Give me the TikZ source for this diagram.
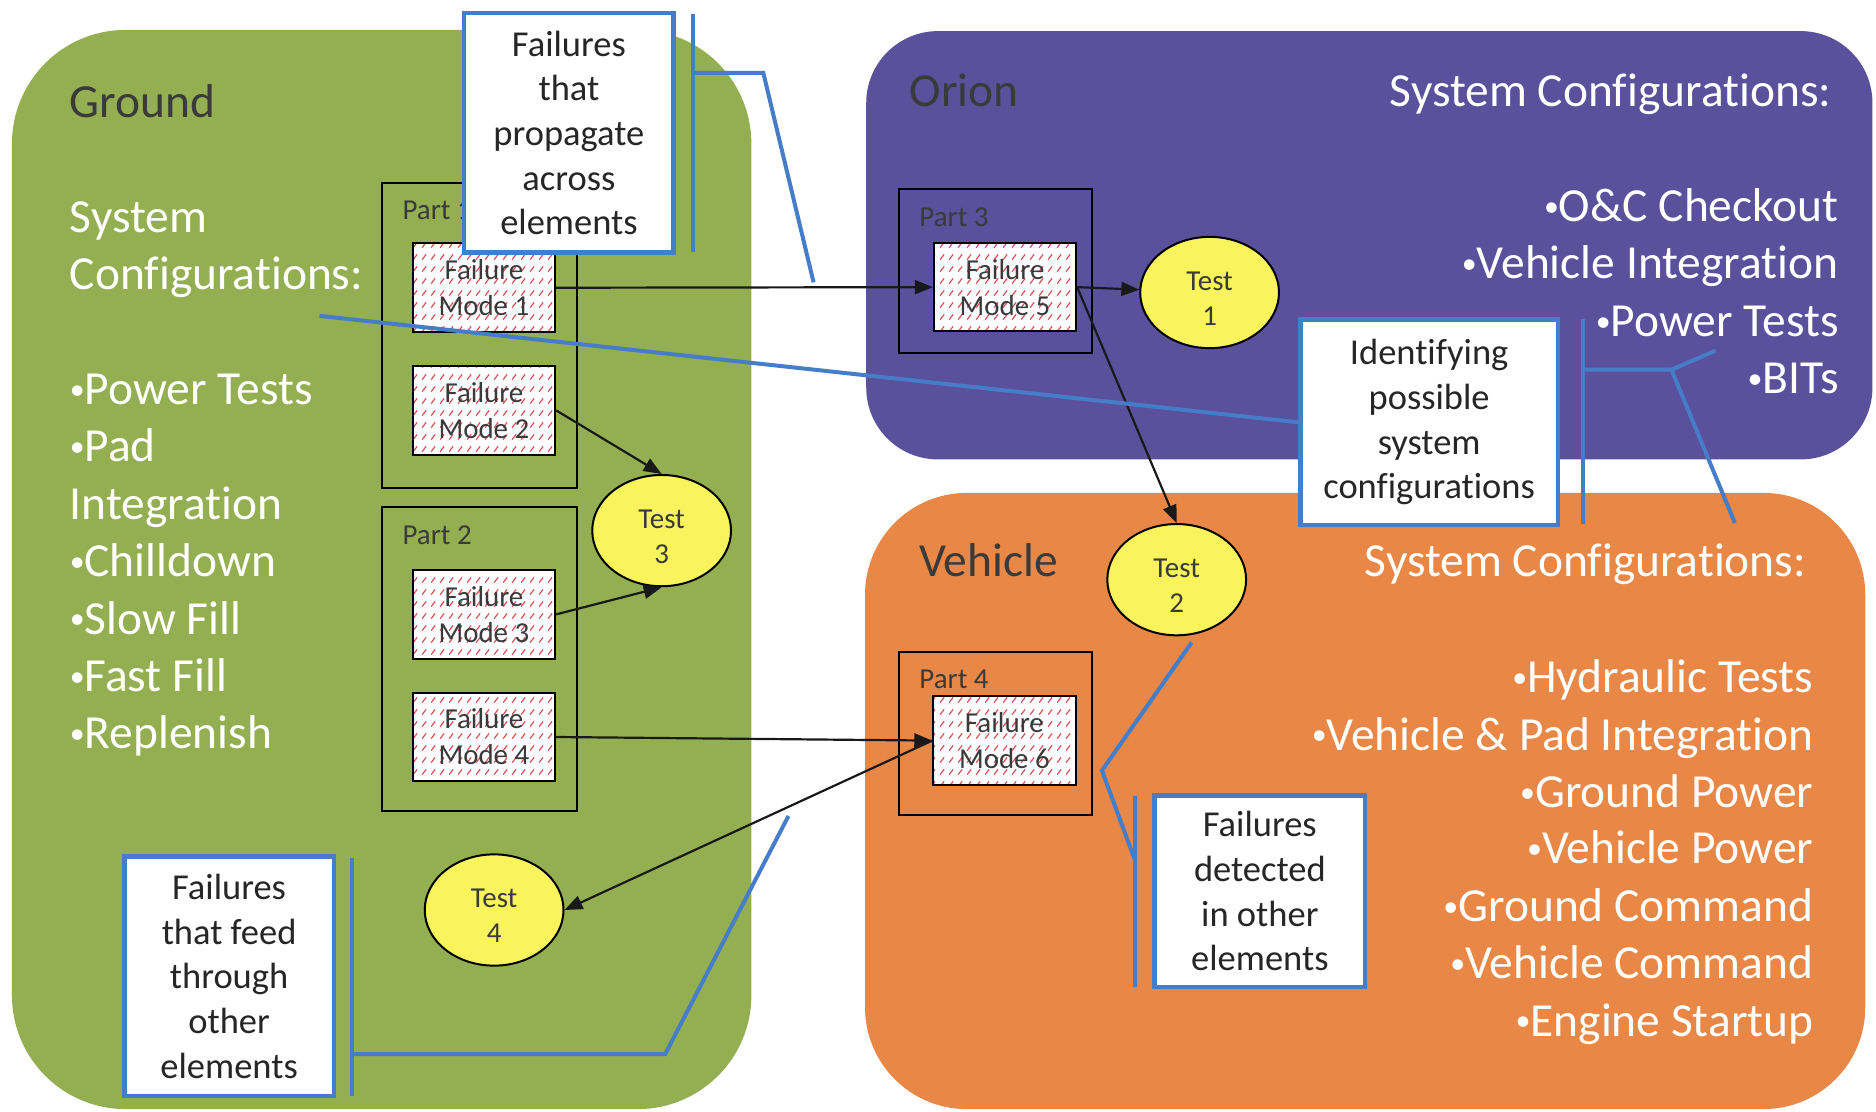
\documentclass[tikz,border=0pt]{standalone}
\usepackage{fontspec}
\setmainfont{Carlito}[Ligatures=NoCommon]
\usetikzlibrary{arrows.meta,patterns.meta,shapes.geometric}

\definecolor{groundgreen}{HTML}{93AF52}
\definecolor{orionpurple}{HTML}{5A509B}
\definecolor{vehicleorange}{HTML}{E88746}
\definecolor{testyellow}{HTML}{F9F35C}
\definecolor{calloutblue}{HTML}{467DC8}
\definecolor{labelgray}{HTML}{3A3A3A}
\definecolor{hatchred}{HTML}{DE5058}

% small list bullet
\newcommand{\itemdot}{\raisebox{2.6pt}{\fontsize{15}{15}\selectfont •}}

% short upward diagonal dashes used inside the failure mode boxes
\tikzdeclarepattern{
  name=failhatch,
  type=uncolored,
  bounding box={(0pt,0pt) and (4.4pt,6pt)},
  tile size={(4.4pt,6pt)},
  code={\draw[line width=0.6pt] (0.6pt,1.2pt) -- (2.6pt,3.8pt);}
}

\tikzset{
  panel/.style={rectangle, inner sep=0pt, draw=none},
  bigtext/.style={font=\fontsize{23.8}{28.8}\selectfont, inner sep=0pt},
  headlabel/.style={bigtext, text=labelgray},
  cfgtext/.style={bigtext, text=white},
  smalltext/.style={font=\fontsize{14.5}{18}\selectfont, text=labelgray},
  partbox/.style={rectangle, draw=black, line width=1pt, inner sep=0pt},
  partlabel/.style={smalltext, inner sep=0pt, anchor=west},
  fmbox/.style={rectangle, draw=black, line width=1pt, preaction={fill=white},
    pattern=failhatch, pattern color=hatchred, minimum width=71.4pt,
    minimum height=44.4pt, inner sep=0pt, align=center, smalltext},
  testell/.style={ellipse, draw=black, line width=1pt, fill=testyellow,
    minimum width=69.6pt, minimum height=55.8pt, inner sep=0pt},
  testtxt/.style={font=\fontsize{14.5}{17.4}\selectfont, text=labelgray,
    align=center, inner sep=0pt},
  flow/.style={draw=black!90, line width=1.1pt, -{Triangle[length=9pt,width=7pt]}},
  callout/.style={rectangle, draw=calloutblue, line width=2.2pt, fill=white,
    align=center, inner sep=0pt, font=\fontsize{18.3}{22.4}\selectfont, text=black!85},
  accent/.style={draw=calloutblue, line width=2pt},
}

\begin{document}
\begin{tikzpicture}[x=0.6pt,y=-0.6pt]
\useasboundingbox (0,0) rectangle (1568,929);
\fill[white] (0,0) rectangle (1568,929);

% element panels
\node[panel, fill=groundgreen, rounded corners=57pt, minimum width=370.8pt, minimum height=541.2pt] (ground) at (319,476) {};
\node[panel, fill=orionpurple, rounded corners=36pt, minimum width=504.6pt, minimum height=214.8pt] (orion) at (1144.5,205) {};
\node[panel, fill=vehicleorange, rounded corners=51pt, minimum width=501.6pt, minimum height=309pt] (vehicle) at (1141,669.5) {};

% panel titles
\node[headlabel, anchor=base west] (ground-title) at (58,98) {Ground};
\node[headlabel, anchor=base west] (orion-title) at (760,89) {Orion};
\node[headlabel, anchor=base west] (vehicle-title) at (768,482) {Vehicle};

% system configurations of each element
\foreach \txt/\yy [count=\i] in {System/194, Configurations:/242, \itemdot Power Tests/338,
    \itemdot Pad/386, Integration/434, \itemdot Chilldown/482, \itemdot Slow Fill/530,
    \itemdot Fast Fill/578, \itemdot Replenish/626}
  \node[cfgtext, anchor=base west] (ground-cfg-\i) at (58,\yy) {\txt};

\node[cfgtext, anchor=base east] (orion-cfg-head) at (1531,89) {System Configurations:};
\foreach \txt/\yy [count=\i] in {\itemdot O\&C Checkout/185, \itemdot Vehicle Integration/233,
    \itemdot Power Tests/281, \itemdot BITs/329}
  \node[cfgtext, anchor=base east] (orion-cfg-\i) at (1537,\yy) {\txt};

\node[cfgtext, anchor=base east] (vehicle-cfg-head) at (1510,482) {System Configurations:};
\foreach \txt/\yy [count=\i] in {\itemdot Hydraulic Tests/579, \itemdot Vehicle \& Pad Integration/627,
    \itemdot Ground Power/675, \itemdot Vehicle Power/722, \itemdot Ground Command/770,
    \itemdot Vehicle Command/818, \itemdot Engine Startup/866}
  \node[cfgtext, anchor=base east] (vehicle-cfg-\i) at (1516,\yy) {\txt};

% parts
\node[partbox, minimum width=97.8pt, minimum height=153pt] (part1) at (400.5,280.5) {};
\node[partbox, minimum width=97.8pt, minimum height=152.4pt] (part2) at (400.5,551) {};
\node[partbox, minimum width=97.2pt, minimum height=82.2pt] (part3) at (832,226.5) {};
\node[partbox, minimum width=97.2pt, minimum height=81.6pt] (part4) at (832,613) {};
\foreach \p in {1,2,3,4}
  \node[partlabel] (part\p-label) at ([xshift=10.8pt,yshift=-14.4pt]part\p.north west) {Part \p};

% failure modes
\node[fmbox] (fm1) at (404.5,240.5) {Failure\\Mode 1};
\node[fmbox] (fm2) at (404.5,343) {Failure\\Mode 2};
\node[fmbox] (fm3) at (404.5,513.5) {Failure\\Mode 3};
\node[fmbox] (fm4) at (404.5,616) {Failure\\Mode 4};
\node[fmbox] (fm5) at (840,240) {Failure\\Mode 5};
\node[fmbox] (fm6) at (839.5,619) {Failure\\Mode 6};

% tests
\node[testell] (t1) at (1011,244.5) {};
\node[testell] (t2) at (983.5,484.5) {};
\node[testell] (t3) at (553,443.5) {};
\node[testell] (t4) at (413,760.6) {};
\foreach \t in {1,2,3,4}
  \node[testtxt] (t\t-text) at ([yshift=-3pt]t\t.center) {Test\\\t};

% propagation arrows
\draw[flow] (fm1.east) -- (fm5.west);
\draw[flow] (fm5.east) -- (t1);
\draw[flow] (fm5.east) -- (t2.north);
\draw[flow] (fm2.east) -- (t3.north);
\draw[flow] (fm3.east) -- (t3.south);
\draw[flow] (fm4.east) -- (fm6.west);
\draw[flow] (fm6.west) -- (t4.east);

% callouts
\node[callout, minimum width=105pt, minimum height=120pt] (cA) at (475.5,111)
  {Failures\\that\\propagate\\across\\elements};
\node[callout, minimum width=129pt, minimum height=103.2pt] (cB) at (1194.5,353)
  {Identifying\\possible\\system\\configurations};
\node[callout, minimum width=105.6pt, minimum height=96pt] (cC) at (1053,745)
  {Failures\\detected\\in other\\elements};
\node[callout, minimum width=105pt, minimum height=120pt] (cD) at (191.5,816)
  {Failures\\that feed\\through\\other\\elements};

% accent bars and leader lines
\coordinate (cA-top) at (579,12);   \coordinate (cA-bot) at (579,211);
\coordinate (cA-knee) at (579,61);  \coordinate (cA-bend) at (638,61);
\coordinate (cA-tip) at (680,236);
\draw[accent] (cA-top) -- (cA-bot);
\draw[accent] (cA-knee) -- (cA-bend) -- (cA-tip);

\coordinate (cfg-point) at (267,264);
\coordinate (cB-top) at (1323,267); \coordinate (cB-bot) at (1323,438);
\coordinate (cB-knee) at (1323,309); \coordinate (cB-bend) at (1397,309);
\coordinate (cB-tip) at (1450,437); \coordinate (cB-tip2) at (1434,293);
\draw[accent] (cfg-point) -- (cB.west);
\draw[accent] (cB-top) -- (cB-bot);
\draw[accent] (cB-knee) -- (cB-bend) -- (cB-tip);
\draw[accent] (cB-bend) -- (cB-tip2);

\coordinate (cC-top) at (949,665);  \coordinate (cC-bot) at (949,825);
\coordinate (cC-knee) at (949,720); \coordinate (cC-bend) at (921,644);
\coordinate (cC-tip) at (996,537);
\draw[accent] (cC-top) -- (cC-bot);
\draw[accent] (cC-knee) -- (cC-bend) -- (cC-tip);

\coordinate (cD-top) at (294,717);  \coordinate (cD-bot) at (294,916);
\coordinate (cD-knee) at (294,881); \coordinate (cD-bend) at (556,881);
\coordinate (cD-tip) at (659,682);
\draw[accent] (cD-top) -- (cD-bot);
\draw[accent] (cD-knee) -- (cD-bend) -- (cD-tip);
\end{tikzpicture}
\end{document}
